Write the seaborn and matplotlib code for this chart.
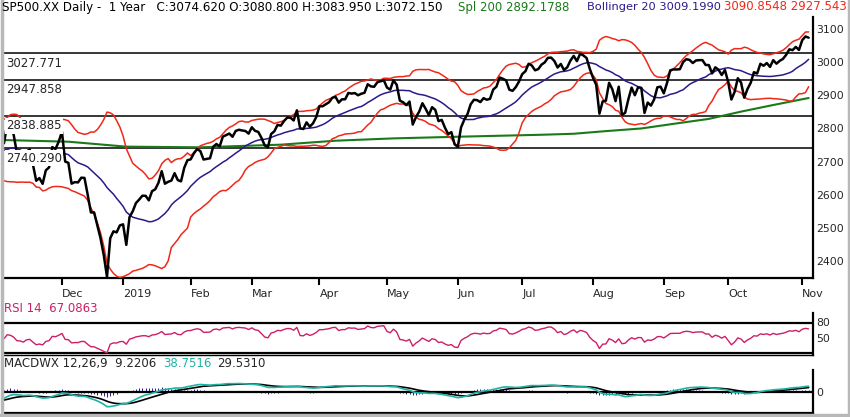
import numpy as np
import pandas as pd
import matplotlib
matplotlib.use("Agg")
import matplotlib.pyplot as plt
import seaborn as sns


# daily closes, Sep 2018 - Nov 2019 (first part is only used to warm up the indicators)
lead_in = [2896.72, 2888.60, 2878.05, 2871.68, 2877.13, 2887.89, 2888.92, 2904.18, 2904.98, 2888.80,
           2904.31, 2907.95, 2930.75, 2929.67, 2919.37, 2915.56, 2905.97, 2914.00, 2913.98,
           2924.59, 2923.43, 2925.51, 2901.61, 2885.57, 2884.43, 2880.34, 2785.68, 2728.37, 2767.13,
           2750.79, 2809.92, 2809.21, 2768.78, 2767.78, 2755.88, 2740.69, 2656.10, 2705.57, 2658.69,
           2641.25, 2682.63, 2711.74, 2740.37, 2723.06, 2738.31]
close_nov18 = [2755.45, 2813.89, 2806.83, 2781.01, 2726.22, 2722.18, 2701.58, 2730.20, 2736.27, 2690.73,
               2641.89, 2649.93, 2632.56, 2673.45, 2682.17, 2743.79, 2737.80, 2760.17]
close_dec18 = [2790.37, 2700.06, 2695.95, 2633.08, 2637.72, 2636.78, 2651.07, 2650.54, 2599.95, 2545.94,
               2546.16, 2506.96, 2467.42, 2416.62, 2351.10, 2467.70, 2488.83, 2485.74, 2506.85]
close_jan19 = [2510.03, 2447.89, 2531.94, 2549.69, 2574.41, 2584.96, 2596.64, 2596.26, 2582.61, 2610.30,
               2616.10, 2635.96, 2670.71, 2632.90, 2638.70, 2642.33, 2664.76, 2643.85, 2640.00, 2681.05,
               2704.10]
close_feb19 = [2706.53, 2724.87, 2737.70, 2731.61, 2706.05, 2707.88, 2709.80, 2744.73, 2753.03, 2745.73,
               2775.60, 2779.76, 2784.70, 2774.88, 2792.67, 2796.11, 2793.90, 2792.38, 2784.49]
close_mar19 = [2803.69, 2792.81, 2789.65, 2771.45, 2748.93, 2743.07, 2783.30, 2791.52, 2810.92, 2808.48,
               2822.48, 2832.94, 2832.57, 2824.23, 2854.88, 2800.71, 2798.36, 2818.46, 2805.37, 2815.44,
               2834.40]
close_apr19 = [2867.19, 2867.24, 2873.40, 2879.39, 2892.74, 2895.77, 2878.20, 2888.21, 2888.32, 2907.41,
               2905.58, 2907.06, 2900.45, 2905.03, 2907.97, 2933.68, 2927.25, 2926.17, 2939.88, 2943.03,
               2945.83]
close_may19 = [2923.73, 2917.52, 2945.64, 2932.47, 2884.05, 2879.42, 2870.72, 2881.40, 2811.87, 2834.41,
               2850.96, 2876.32, 2859.53, 2840.23, 2864.36, 2856.27, 2822.24, 2826.06, 2802.39, 2783.02,
               2788.86, 2752.06]
close_jun19 = [2744.45, 2803.27, 2826.15, 2843.49, 2873.34, 2886.73, 2885.72, 2879.84, 2891.64, 2886.98,
               2889.67, 2917.75, 2926.46, 2954.18, 2950.46, 2945.35, 2917.38, 2913.78, 2924.92, 2941.76]
close_jul19 = [2964.33, 2973.01, 2995.82, 2990.41, 2975.95, 2979.63, 2993.07, 2999.91, 3013.77, 3014.30,
               3004.04, 2984.42, 2995.11, 2976.61, 2985.03, 3005.47, 3019.56, 3003.67, 3025.86, 3020.97,
               3013.18, 2980.38]
close_aug19 = [2953.56, 2932.05, 2844.74, 2881.77, 2883.98, 2938.09, 2918.65, 2882.70, 2926.32, 2840.60,
               2847.60, 2888.68, 2923.65, 2900.51, 2924.43, 2922.95, 2847.11, 2878.38, 2869.16, 2887.94,
               2924.58, 2926.46]
close_sep19 = [2906.27, 2937.78, 2976.00, 2978.71, 2978.43, 2979.39, 3000.93, 3009.57, 3007.39, 2997.96,
               3005.70, 3006.73, 3006.79, 2992.07, 2991.78, 2966.60, 2984.87, 2977.62, 2961.79, 2976.74]
close_oct19 = [2940.25, 2887.61, 2910.63, 2952.01, 2938.79, 2893.06, 2919.40, 2938.13, 2970.27, 2966.15,
               2995.68, 2989.69, 2997.95, 2986.20, 3006.72, 2995.99, 3004.52, 3010.29, 3022.55, 3039.42,
               3036.89, 3046.77, 3037.56]
close_nov19 = [3066.91, 3078.27, 3074.62]

month_labels = ["Dec", "2019", "Feb", "Mar", "Apr", "May", "Jun", "Jul", "Aug", "Sep", "Oct", "Nov"]

# 200 day average, read at a few points (trading day index, value)
sma200_day = [0, 20, 38, 61, 86, 103, 121, 141, 154, 167, 177, 187, 198, 208, 219, 229, 239, 250]
sma200_val = [2765, 2760, 2745, 2743, 2751, 2763, 2770, 2775, 2778, 2781, 2784, 2792, 2800, 2814, 2829,
              2851, 2871, 2892.18]

levels = [3027.771, 2947.858, 2838.885, 2740.290]
price_ticks = [3100, 3000, 2900, 2800, 2700, 2600, 2500, 2400]
rsi_ticks = [80, 50]

# header pieces: (text, x pixel, font size, colour)
header = [("SP500.XX Daily -  1 Year   C:3074.620 O:3080.800 H:3083.950 L:3072.150", 2, 8.6, "black"),
          ("Spl 200 2892.1788", 458, 8.5, "#1a7a1a"),
          ("Bollinger 20 3009.1990", 587, 8.2, "#2a1a8a"),
          ("3090.8548 2927.543", 724, 8.5, "#f02818")]

W, H = 850, 417
RED = "#f02818"
NAVY = "#2a1a8a"
GREEN = "#1a7a1a"
MAGENTA = "#cc1f66"
TEAL = "#1fb3a6"


def px_axes(fig, x0, y0, x1, y1):
    ax = fig.add_axes([x0 / W, 1 - y1 / H, (x1 - x0) / W, (y1 - y0) / H])
    ax.set_facecolor("none")
    for side in ["left", "top"]:
        ax.spines[side].set_visible(False)
    ax.spines["right"].set_linewidth(1.6)
    ax.spines["right"].set_color("black")
    ax.spines["bottom"].set_color("black")
    ax.yaxis.tick_right()
    ax.tick_params(axis="y", right=True, length=0, pad=2.4, labelsize=7.8)
    return ax


def build_frame():
    months = [close_nov18, close_dec18, close_jan19, close_feb19, close_mar19, close_apr19,
              close_may19, close_jun19, close_jul19, close_aug19, close_sep19, close_oct19, close_nov19]
    closes = sum(months, [])
    full = pd.Series(lead_in + closes)
    mid = full.rolling(20).mean()
    sd = full.rolling(20).std(ddof=0)
    delta = full.diff()
    gain = delta.clip(lower=0).ewm(alpha=1 / 14, adjust=False).mean()
    loss = (-delta.clip(upper=0)).ewm(alpha=1 / 14, adjust=False).mean()
    rsi = 100 - 100 / (1 + gain / loss)
    macd = full.ewm(span=12, adjust=False).mean() - full.ewm(span=26, adjust=False).mean()
    signal = macd.ewm(span=9, adjust=False).mean()
    df = pd.DataFrame({"close": full, "mid": mid, "upper": mid + 2 * sd, "lower": mid - 2 * sd,
                       "rsi": rsi, "macd": macd, "signal": signal, "hist": macd - signal})
    df = df.iloc[len(lead_in):].reset_index(drop=True)
    df["day"] = np.arange(len(df))
    month_starts = np.cumsum([len(m) for m in months])[:-1]
    return df, month_starts


def plot_chart(df, month_starts):
    fig = plt.figure(figsize=(W / 100, H / 100), dpi=100)
    xlim = (0, 251.2)

    # price panel
    ax = px_axes(fig, 4, 17, 812.5, 278)
    for lv in levels:
        ax.axhline(lv, color="black", lw=1.1, zorder=1)
        ax.annotate(f"{lv:.3f}", xy=(0.0025, lv), xycoords=("axes fraction", "data"),
                    xytext=(0, -2.5), textcoords="offset points", fontsize=8.5, va="top", ha="left",
                    zorder=6, bbox=dict(facecolor="white", edgecolor="none", pad=1.0))
    sma = pd.DataFrame({"day": sma200_day, "sma": sma200_val})
    sns.lineplot(data=sma, x="day", y="sma", color=GREEN, lw=1.5, ax=ax, zorder=2)
    sns.lineplot(data=df, x="day", y="upper", color=RED, lw=1.1, ax=ax, zorder=3)
    sns.lineplot(data=df, x="day", y="lower", color=RED, lw=1.1, ax=ax, zorder=3)
    sns.lineplot(data=df, x="day", y="mid", color=NAVY, lw=1.1, ax=ax, zorder=3)
    sns.lineplot(data=df, x="day", y="close", color="black", lw=1.8, ax=ax, zorder=4)
    ax.set_xlim(*xlim)
    ax.set_ylim(2347.7, 3137.2)
    ax.set_yticks(price_ticks)
    ax.spines["bottom"].set_linewidth(1.6)
    ax.set_xticks(month_starts, month_labels)
    ax.tick_params(axis="x", bottom=True, direction="out", length=5, width=1.5, pad=3, labelsize=8,
                   color="black")
    for lbl in ax.get_xticklabels():
        lbl.set_ha("left")
    ax.set_xlabel("")
    ax.set_ylabel("")

    # RSI panel
    ax2 = px_axes(fig, 4, 313, 812.5, 355)
    ax2.axhline(80, color="black", lw=1.6)
    ax2.axhline(20, color="black", lw=1.6)
    sns.lineplot(data=df, x="day", y="rsi", color=MAGENTA, lw=1.0, ax=ax2)
    ax2.set_xlim(*xlim)
    ax2.set_ylim(15, 99)
    ax2.set_yticks(rsi_ticks)
    ax2.set_xticks([])
    ax2.spines["bottom"].set_linewidth(1.0)
    ax2.set_xlabel("")
    ax2.set_ylabel("")

    # MACD panel, scaled so the December trough sits near the bottom like the original
    ax3 = px_axes(fig, 4, 370, 812.5, 413)
    ax3.vlines(df["day"], 0, df["hist"], color=NAVY, lw=0.7)
    ax3.axhline(0, color="black", lw=1.6)
    sns.lineplot(data=df, x="day", y="signal", color="black", lw=1.2, ax=ax3)
    sns.lineplot(data=df, x="day", y="macd", color=TEAL, lw=1.2, ax=ax3)
    unit = -df["macd"].min() / 15.0
    ax3.set_xlim(*xlim)
    ax3.set_ylim(-(413 - 391.7) * unit, (391.7 - 370) * unit)
    ax3.set_yticks([0])
    ax3.set_xticks([])
    ax3.spines["bottom"].set_linewidth(1.6)
    ax3.set_xlabel("")
    ax3.set_ylabel("")

    # header and panel captions
    for txt, x, size, col in header:
        fig.text(x / W, 1 - 10.5 / H, txt, fontsize=size, va="baseline", color=col)
    fs = 8.5
    fig.text(4 / W, 1 - 312 / H, "RSI 14  67.0863", fontsize=fs, va="baseline", color=MAGENTA)
    fig.text(4 / W, 1 - 367 / H, "MACDWX 12,26,9  9.2206", fontsize=fs, va="baseline")
    fig.text(163 / W, 1 - 367 / H, "38.7516", fontsize=fs, va="baseline", color=TEAL)
    fig.text(217 / W, 1 - 367 / H, "29.5310", fontsize=fs, va="baseline")

    # window frame
    for xs, ys in [([1.5, 1.5], [0, 415]), ([848.5, 848.5], [0, 415]), ([0, 850], [415, 415])]:
        fig.add_artist(plt.Line2D([x / W for x in xs], [1 - y / H for y in ys], color="#b8b8b8",
                                  lw=2.5, transform=fig.transFigure))

    fig.savefig("out.png", dpi=100)
    plt.close(fig)


def main():
    sns.set_style("white")
    plt.rcParams["font.family"] = ["DejaVu Sans"]
    df, month_starts = build_frame()
    plot_chart(df, month_starts)


if __name__ == "__main__":
    main()
